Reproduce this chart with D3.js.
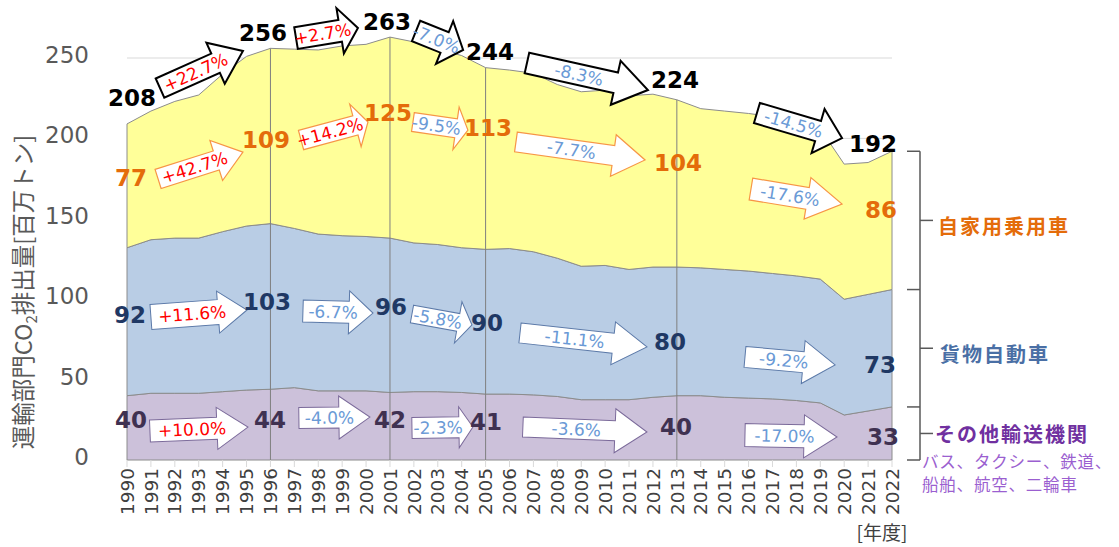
<!DOCTYPE html>
<html><head><meta charset="utf-8">
<script src="https://cdn.jsdelivr.net/npm/d3@7"></script>
<style>body{margin:0;background:#fff;} svg{display:block;}</style>
</head><body><svg id="c" width="1119" height="547"></svg>
<script>
// ---------- data ----------
const years = [1990,1991,1992,1993,1994,1995,1996,1997,1998,1999,2000,2001,2002,2003,2004,2005,2006,2007,2008,2009,2010,2011,2012,2013,2014,2015,2016,2017,2018,2019,2020,2021,2022];
const otherTransport = [40,41.5,41.5,41.5,42.5,43.5,44,45,43,43,43,42,42.5,42.5,42,41,41,40.5,39.5,37.5,37.5,37.5,39,40,40,39,38.5,38,37,35.5,28,30.5,33];
const freightTrucks  = [92,95.5,96.5,96.5,99.5,102,103,99,97.5,96.5,96,96,92.5,91.5,90,90,90.5,89,86,83,83.5,81,81,80,79.5,79.5,79,78,77.5,77,72,72.5,73];
const privateCars    = [77,80,85,89,98,105.5,109,111.5,114.5,118,119.5,125,125,121.5,119.5,113,111,111,108,108.5,109,108,107.5,104,99,98.5,98,97.5,96.5,93.5,84,82,86];
const yTicks = [0,50,100,150,200,250];
const milestoneYears = [1990,1996,2001,2005,2013,2022];
const totalLabels   = [208,256,263,244,224,192];
const carLabels     = [77,109,125,113,104,86];
const freightLabels = [92,103,96,90,80,73];
const otherLabels   = [40,44,42,41,40,33];
const totalChanges   = ["+22.7%","+2.7%","-7.0%","-8.3%","-14.5%"];
const carChanges     = ["+42.7%","+14.2%","-9.5%","-7.7%","-17.6%"];
const freightChanges = ["+11.6%","-6.7%","-5.8%","-11.1%","-9.2%"];
const otherChanges   = ["+10.0%","-4.0%","-2.3%","-3.6%","-17.0%"];
const seriesNames = ["自家用乗用車","貨物自動車","その他輸送機関"];
const otherNote = ["バス、タクシー、鉄道、","船舶、航空、二輪車"];
const yTitle = ["運輸部門CO","2","排出量[百万トン]"];
const xTitle = "[年度]";

// annotation anchors in data units (year, value)
const labelAnchors = {
  total:   [[1990.21,225.1],[1995.69,265.5],[2000.88,272.4],[2005.18,253.7],[2012.92,236.3],[2021.21,196.5]],
  car:     [[1990.17,175.4],[1995.81,199.0],[2000.92,215.8],[2005.10,206.5],[2013.05,184.7],[2021.54,155.5]],
  freight: [[1990.13,90.2],[1995.86,98.3],[2001.04,95.1],[2005.06,85.2],[2012.71,73.4],[2021.50,59.1]],
  other:   [[1990.17,24.9],[1995.98,24.9],[2001.00,24.9],[2005.02,23.6],[2012.96,20.5],[2021.62,14.3]]
};
// arrows: tail [yr,val], tip [yr,val], body thickness, head width, head length
const arrowAnchors = {
  total: [
    {tail:[1991.38,231.3], tip:[1994.85,254.4], t:21, w:45, h:30},
    {tail:[1997.07,262.4], tip:[1999.66,268.7], t:22, w:46, h:18},
    {tail:[2002.09,266.8], tip:[2004.06,255.0], t:22, w:46, h:20},
    {tail:[2006.73,246.9], tip:[2011.79,230.1], t:21, w:45, h:33},
    {tail:[2016.35,215.8], tip:[2019.91,200.2], t:21, w:46, h:25}
  ],
  car: [
    {tail:[1991.30,174.8], tip:[1994.85,191.5], t:20, w:42, h:28},
    {tail:[1997.28,199.0], tip:[2000.08,210.2], t:20, w:44, h:13},
    {tail:[2001.96,210.2], tip:[2004.26,205.2], t:19, w:43, h:12},
    {tail:[2006.27,197.8], tip:[2011.67,186.6], t:20, w:42, h:32},
    {tail:[2016.10,168.5], tip:[2019.91,159.2], t:22, w:42, h:35}
  ],
  freight: [
    {tail:[1991.00,88.9], tip:[1995.02,93.3], t:25, w:42, h:29},
    {tail:[1997.36,92.7], tip:[2000.29,91.4], t:22, w:43, h:24},
    {tail:[2001.92,90.8], tip:[2004.43,84.0], t:18, w:42, h:14},
    {tail:[2006.44,79.0], tip:[2011.75,70.3], t:20, w:43, h:34},
    {tail:[2015.85,64.1], tip:[2019.62,59.1], t:21, w:43, h:32}
  ],
  other: [
    {tail:[1990.96,18.0], tip:[1995.06,20.5], t:22, w:42, h:31},
    {tail:[1997.19,26.1], tip:[2000.16,26.7], t:21, w:43, h:31},
    {tail:[2001.92,19.9], tip:[2004.47,20.5], t:21, w:41, h:14},
    {tail:[2006.56,20.5], tip:[2011.75,17.4], t:20, w:44, h:32},
    {tail:[2015.85,15.5], tip:[2019.70,14.3], t:23, w:43, h:33}
  ]
};

// ---------- chart ----------
const svg = d3.select("#c");
const x = d3.scaleLinear().domain([1990,2022]).range([127,892]);
const y = d3.scaleLinear().domain([0,250]).range([460,58]);
const FONT = "'DejaVu Sans', Verdana, sans-serif";
const JP = "'Noto Sans CJK JP', 'Noto Sans', sans-serif";

// gridlines
svg.append("g").selectAll("line").data(yTicks.filter(d=>d>0)).join("line")
  .attr("x1",x(1990)).attr("x2",x(2022))
  .attr("y1",d=>y(d)).attr("y2",d=>y(d))
  .attr("stroke","#d9d9d9").attr("stroke-width",1);

// y tick labels
svg.append("g").selectAll("text").data(yTicks).join("text")
  .attr("x",89).attr("y",d=>y(d)-3).attr("dy","0.35em")
  .attr("text-anchor","end").attr("font-family",FONT).attr("font-size",23)
  .attr("fill","#595959").text(d=>d);

// stacked areas
const rows = years.map((yr,i)=>({year:yr, other:otherTransport[i], freight:freightTrucks[i], car:privateCars[i]}));
const layers = d3.stack().keys(["other","freight","car"])(rows);
const fills = {other:"#ccc1da", freight:"#b9cde5", car:"#ffff99"};
const area = d3.area().x(d=>x(d.data.year)).y0(d=>y(d[0])).y1(d=>y(d[1]));
svg.append("g").selectAll("path").data(layers).join("path")
  .attr("d",area).attr("fill",d=>fills[d.key])
  .attr("stroke","#8c8c8c").attr("stroke-width",1).attr("stroke-linejoin","round");

// separator lines at milestone years
const totals = rows.map(r=>r.other+r.freight+r.car);
svg.append("g").selectAll("line").data(milestoneYears.slice(1,-1)).join("line")
  .attr("x1",d=>x(d)).attr("x2",d=>x(d))
  .attr("y1",d=>y(totals[years.indexOf(d)])).attr("y2",y(0))
  .attr("stroke","#7f7f7f").attr("stroke-width",1);

// x ticks
svg.append("g").selectAll("line").data(years).join("line")
  .attr("x1",d=>x(d)).attr("x2",d=>x(d)).attr("y1",y(0)).attr("y2",y(0)+7)
  .attr("stroke","#d9d9d9");
svg.append("g").selectAll("text").data(years).join("text")
  .attr("transform",d=>`translate(${x(d)},${y(0)+8}) rotate(-90)`)
  .attr("dy","0.36em").attr("text-anchor","end")
  .attr("font-family",FONT).attr("font-size",18.5).attr("fill","#404040").text(d=>d);
svg.append("text").attr("x",882).attr("y",533).attr("dy","0.35em").attr("text-anchor","middle")
  .attr("font-family",JP).attr("font-size",19).attr("fill","#404040").text(xTitle);

// y title
const yt = svg.append("text").attr("transform","translate(24,292) rotate(-90)")
  .attr("text-anchor","middle").attr("dy","0.35em")
  .attr("font-family",JP).attr("font-size",23.5).attr("fill","#595959");
yt.append("tspan").text(yTitle[0]);
yt.append("tspan").attr("dy",5).attr("font-size",15).text(yTitle[1]);
yt.append("tspan").attr("dy",-5).text(yTitle[2]);

// arrows
function arrowPath(len,t,w,h){
  const b = len-h;
  return `M0,${-t/2}L${b},${-t/2}L${b},${-w/2}L${len},0L${b},${w/2}L${b},${t/2}L0,${t/2}Z`;
}
const arrowStyle = {
  total:{stroke:"#000000", sw:2},
  car:{stroke:"#f79646", sw:1.2},
  freight:{stroke:"#5b79a8", sw:1},
  other:{stroke:"#7b6a9a", sw:1}
};
const changeSets = {total:totalChanges, car:carChanges, freight:freightChanges, other:otherChanges};
const ag = svg.append("g");
Object.keys(arrowAnchors).forEach(key=>{
  arrowAnchors[key].forEach((a,i)=>{
    const x1=x(a.tail[0]), y1=y(a.tail[1]), x2=x(a.tip[0]), y2=y(a.tip[1]);
    const len=Math.hypot(x2-x1,y2-y1), ang=Math.atan2(y2-y1,x2-x1)*180/Math.PI;
    const g = ag.append("g").attr("transform",`translate(${x1},${y1}) rotate(${ang})`);
    g.append("path").attr("d",arrowPath(len,a.t,a.w,a.h))
      .attr("fill","#ffffff").attr("stroke",arrowStyle[key].stroke)
      .attr("stroke-width",arrowStyle[key].sw).attr("stroke-linejoin","miter");
    const lab = changeSets[key][i];
    g.append("text").attr("x",len*0.43).attr("y",0).attr("dy","0.36em")
      .attr("text-anchor","middle").attr("font-family",FONT).attr("font-size",17)
      .attr("fill",lab[0]==="+"?"#ff0000":"#6a9ad6").text(lab);
  });
});

// value labels
const labelSets = {total:totalLabels, car:carLabels, freight:freightLabels, other:otherLabels};
const labelColors = {total:"#000000", car:"#e46c0a", freight:"#1f3864", other:"#3f3151"};
const lg = svg.append("g");
Object.keys(labelAnchors).forEach(key=>{
  lg.selectAll(null).data(labelAnchors[key]).join("text")
    .attr("x",d=>x(d[0])).attr("y",d=>y(d[1])).attr("dy","0.36em")
    .attr("text-anchor","middle").attr("font-family",FONT).attr("font-weight","bold")
    .attr("font-size",23).attr("fill",labelColors[key])
    .text((d,i)=>labelSets[key][i]);
});

// right bracket legend
const last = rows[rows.length-1];
const bounds = [last.other+last.freight+last.car, last.other+last.freight, last.other, 0];
const bx = x(2022)+28;
const bg = svg.append("g").attr("stroke","#595959").attr("stroke-width",1.5);
bg.append("line").attr("x1",bx).attr("x2",bx).attr("y1",y(bounds[0])).attr("y2",y(0));
bg.selectAll(null).data(bounds).join("line")
  .attr("x1",bx-13).attr("x2",bx).attr("y1",d=>y(d)).attr("y2",d=>y(d));
const mids = [0,1,2].map(i=>(bounds[i]+bounds[i+1])/2);
bg.selectAll(null).data(mids).join("line")
  .attr("x1",bx).attr("x2",bx+13).attr("y1",d=>y(d)).attr("y2",d=>y(d));
const legColors = ["#e46c0a","#4a6fa5","#7030a0"];
const legX = [bx+18, bx+20, bx+15];
svg.append("g").selectAll("text").data(seriesNames).join("text")
  .attr("x",(d,i)=>legX[i]).attr("y",(d,i)=>y(mids[i])+(i===0?7:i===1?7:2)).attr("dy","0.35em")
  .attr("font-family",JP).attr("font-weight","bold").attr("font-size",20)
  .attr("letter-spacing",2).attr("fill",(d,i)=>legColors[i]).text(d=>d);
svg.append("g").selectAll("text").data(otherNote).join("text")
  .attr("x",bx+2).attr("y",(d,i)=>y(0)+2+i*23).attr("dy","0.35em")
  .attr("font-family",JP).attr("font-size",16.5).attr("letter-spacing",0.8)
  .attr("fill","#9b5fd0").text(d=>d);
</script></body></html>
